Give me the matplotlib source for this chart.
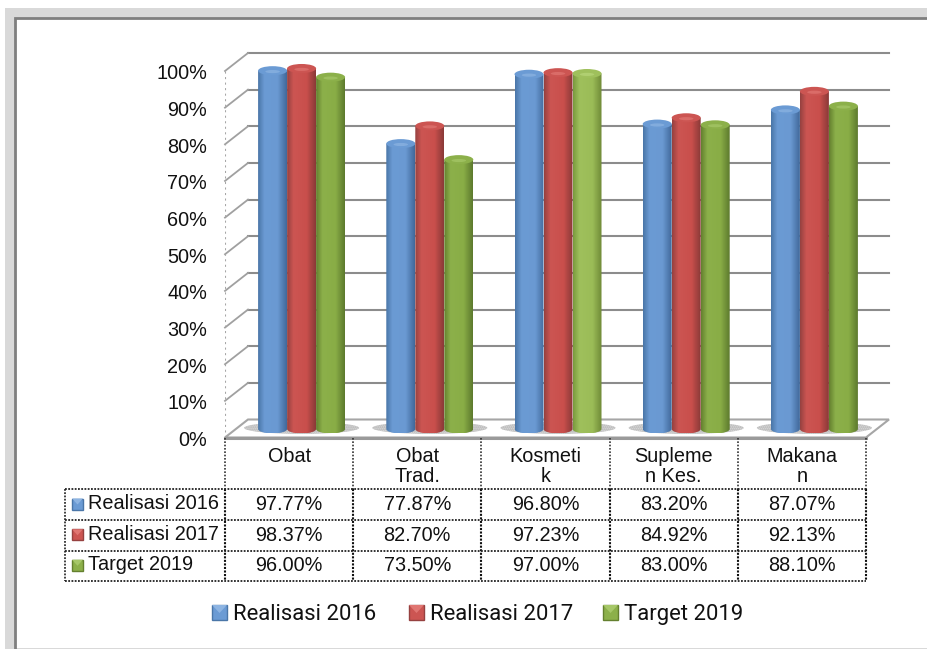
import matplotlib
matplotlib.use("Agg")
import matplotlib.pyplot as plt
import matplotlib.transforms as mtransforms
import numpy as np
from matplotlib.colors import LinearSegmentedColormap
from matplotlib.patches import Ellipse, Polygon, Rectangle, PathPatch
from matplotlib.path import Path

categories = ["Obat", "Obat\nTrad.", "Kosmeti\nk", "Supleme\nn Kes.", "Makana\nn"]
series_names = ["Realisasi 2016", "Realisasi 2017", "Target 2019"]
realisasi_2016 = [97.77, 77.87, 96.80, 83.20, 87.07]
realisasi_2017 = [98.37, 82.70, 97.23, 84.92, 92.13]
target_2019 = [96.00, 73.50, 97.00, 83.00, 88.10]
y_ticks = [0, 10, 20, 30, 40, 50, 60, 70, 80, 90, 100]

W, H = 927, 649
PX_X = 641 / 5        # pixels per category
PX_Y = 366.5 / 100    # pixels per percent
DX, DY = 23 / PX_X, 18 / PX_Y   # depth of the 3d box

shades = [
    ("#4a76a8", "#6b9bd4", "#6a99d2", "#41699b", "#8db4e2"),
    ("#964140", "#cc5552", "#c94f4c", "#8a3a38", "#e07672"),
    ("#64802f", "#8cb04a", "#89ad46", "#5d7a2e", "#a6c768"),
]
bright_green = ("#7a9a3e", "#9fc05c", "#9bbc57", "#6f8a37", "#b8d67a")  # Kosmetik target

plt.rcParams["font.family"] = ["Liberation Sans", "DejaVu Sans"]
fig = plt.figure(figsize=(W / 100, H / 100), dpi=100, facecolor="white")

# page frame and table live in a pixel overlay
bg = fig.add_axes([0, 0, 1, 1], zorder=0)
bg.set_xlim(0, W)
bg.set_ylim(H, 0)
bg.axis("off")
bg.add_patch(Rectangle((5, 8), W - 5, H - 8, fc="#d9d9d9", ec="none"))
bg.add_patch(Rectangle((15, 18), W - 15, H - 19, fc="white", ec="none"))
bg.plot([15, 15, W], [H, 18, 18], color="#7f7f7f", lw=2, solid_joinstyle="miter")

ax = fig.add_axes([225 / W, (H - 437.5) / H, 641 / W, 366.5 / H], zorder=1)
ax.patch.set_alpha(0)
ax.set_xlim(0, 5)
ax.set_ylim(0, 100)
for s in ax.spines.values():
    s.set_visible(False)
ax.set_xticks([])
ax.set_yticks(y_ticks)
ax.set_yticklabels([f"{t}%" for t in y_ticks], fontsize=14.3, color="#111111")
ax.tick_params(axis="y", length=0, pad=13)
nudge = mtransforms.ScaledTranslation(0, -0.7 / 72, fig.dpi_scale_trans)
for lab in ax.get_yticklabels():
    lab.set_transform(lab.get_transform() + nudge)

# walls and floor
ax.add_patch(Polygon([(0, 0), (DX, DY), (5 + DX, DY), (5, 0)], closed=True,
                     fc="white", ec="#a6a6a6", lw=1.5, zorder=1, clip_on=False))
for t in y_ticks[1:]:
    ax.plot([DX, 5 + DX], [t + DY, t + DY], color="#8c8c8c", lw=1.5, zorder=1, clip_on=False)
    ax.plot([0, DX], [t, t + DY], color="#a0a0a0", lw=1.3, zorder=1, clip_on=False)
ax.plot([0, 0], [0, 100], color="#a6a6a6", lw=1.5, ls=":", zorder=1)
ax.plot([0, 5], [0, 0], color="#9a9a9a", lw=2.2, zorder=2, clip_on=False)

# cylinders
bar_w = 29 / PX_X
half_h = 4.5 / PX_Y
base = 8.5 / PX_Y
shift = 1 / PX_X
for i, vals in enumerate([realisasi_2016, realisasi_2017, target_2019]):
    for j, v in enumerate(vals):
        edge1, mid1, mid2, edge2, top = bright_green if (i == 2 and j == 2) else shades[i]
        cmap = LinearSegmentedColormap.from_list(
            "c", [(0, edge1), (0.22, mid1), (0.68, mid2), (1, edge2)])
        c = j + 0.5 + DX / 2 + shift + (i - 1) * bar_w
        left, right = c - bar_w / 2, c + bar_w / 2
        if i == 1:
            ax.add_patch(Ellipse((c, base + 0.3), 115 / PX_X, 12 / PX_Y, fc="#e2e2e2",
                                 ec="#a8a8a8", lw=0, hatch="........", zorder=2, clip_on=False))
        z = 3 + i
        k = 0.5523
        verts = [(left, base + v), (left, base),
                 (left, base - half_h * k), (c - bar_w * 0.5 * k, base - half_h),
                 (c, base - half_h),
                 (c + bar_w * 0.5 * k, base - half_h), (right, base - half_h * k), (right, base),
                 (right, base + v), (left, base + v)]
        codes = [Path.MOVETO, Path.LINETO, Path.CURVE4, Path.CURVE4, Path.CURVE4,
                 Path.CURVE4, Path.CURVE4, Path.CURVE4, Path.LINETO, Path.CLOSEPOLY]
        clip = PathPatch(Path(verts, codes), transform=ax.transData, fc="none", ec="none",
                         clip_on=False)
        im = ax.imshow(np.linspace(0, 1, 64).reshape(1, -1), cmap=cmap, aspect="auto",
                       extent=(left, right, base - half_h, base + v), zorder=z)
        ax.add_patch(clip)
        im.set_clip_box(fig.bbox)
        im.set_clip_path(clip)
        ax.add_patch(Ellipse((c, base + v), bar_w, 2 * half_h, fc=mid1, ec="none",
                             zorder=z, clip_on=False))
        ax.add_patch(Ellipse((c, base + v - half_h * 0.2), bar_w * 0.5, half_h * 0.7,
                             fc=top, ec="none", alpha=0.7, zorder=z, clip_on=False))
ax.set_xlim(0, 5)
ax.set_ylim(0, 100)

# data table
tb = fig.add_axes([0, 0, 1, 1], zorder=2)
tb.set_xlim(0, W)
tb.set_ylim(H, 0)
tb.axis("off")
col_x = [225 + PX_X * i for i in range(6)]
row_y = [489, 520, 550.5, 581]
for x in col_x:
    tb.plot([x, x], [438, 489], color="#333333", lw=1.2, ls=(0, (1, 1)))
    tb.plot([x, x], [489, 581], color="#111111", lw=1.5, ls=(0, (1, 0.7)))
tb.plot([65.5, 65.5], [489, 581], color="#333333", lw=1.3, ls=(0, (1, 0.8)))
for y in row_y:
    tb.plot([65.5, col_x[-1]], [y, y], color="#222222", lw=1.3, ls=(0, (1, 0.8)))

for j, name in enumerate(categories):
    tb.text(col_x[j] + PX_X / 2, 447, name, ha="center", va="top", fontsize=14.3,
            linespacing=1.1, color="#111111")
rows = [realisasi_2016, realisasi_2017, target_2019]
for i, vals in enumerate(rows):
    ym = (row_y[i] + row_y[i + 1]) / 2
    tb.add_patch(Rectangle((72, ym - 6), 11, 11, fc=shades[i][1], ec=shades[i][0], lw=1))
    tb.add_patch(Polygon([(72, ym - 6), (83, ym - 6), (77.5, ym)], closed=True,
                         fc=shades[i][4], ec="none"))
    tb.text(88, ym - 1, series_names[i], va="center", fontsize=14.3, color="#111111")
    for j, v in enumerate(vals):
        tb.text(col_x[j] + PX_X / 2, ym, f"{v:.2f}%", ha="center", va="center",
                fontsize=14.3, color="#111111")

# legend along the bottom
legend_x = [212, 409, 603]
for i, name in enumerate(series_names):
    x0 = legend_x[i]
    tb.add_patch(Rectangle((x0, 605), 15, 15, fc=shades[i][1], ec=shades[i][0], lw=1))
    tb.add_patch(Polygon([(x0, 605), (x0 + 15, 605), (x0 + 7.5, 613)], closed=True,
                         fc=shades[i][4], ec="none"))
    tb.text(x0 + 21, 620, name, va="baseline", fontsize=15.9, family=["Roboto", "DejaVu Sans"],
            color="#111111")

fig.savefig("out.png", dpi=100)
